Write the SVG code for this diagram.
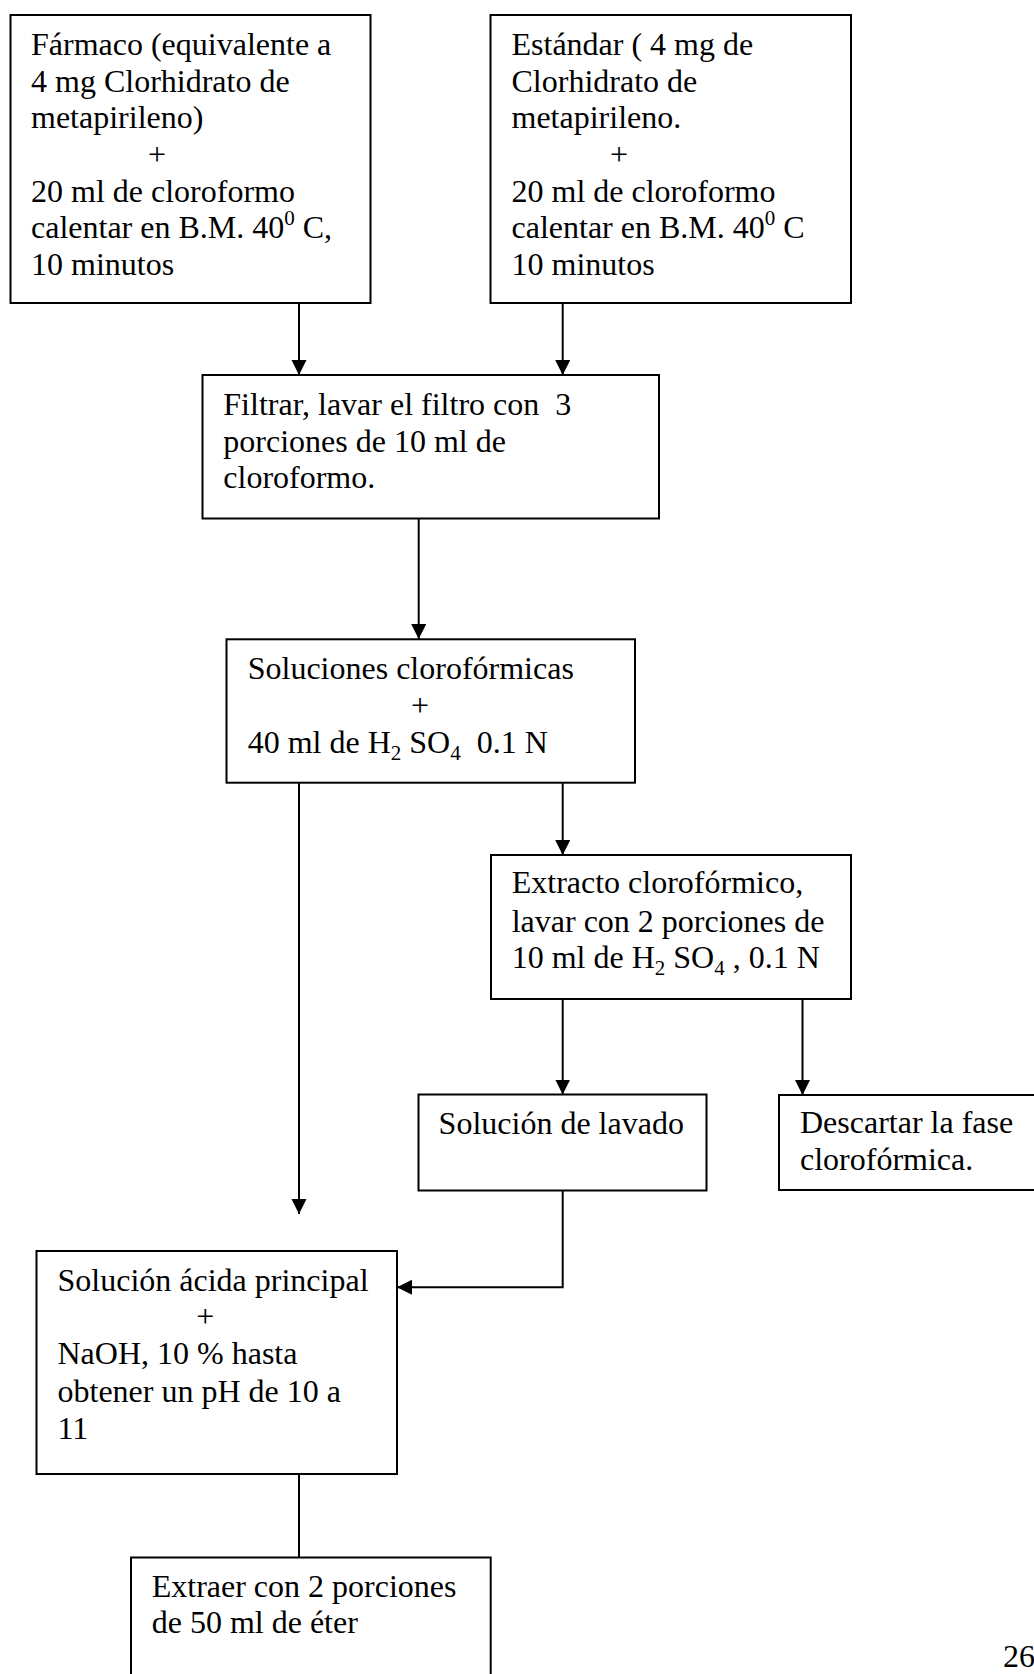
<svg xmlns="http://www.w3.org/2000/svg" width="1034" height="1674" viewBox="0 0 1034 1674">
<style>
.box{fill:#fff;stroke:#000;stroke-width:2}
.t{font-family:"Liberation Serif","Times New Roman",serif;font-size:32px;fill:#000}
.c{stroke:#000;stroke-width:2;fill:none}
.sub{font-size:21px}
</style>
<defs>
<marker id="ah" markerUnits="userSpaceOnUse" markerWidth="16" markerHeight="16" refX="15" refY="7.5" orient="auto">
<path d="M0,0 L15,7.5 L0,15 z" fill="#000"/>
</marker>
</defs>
<rect width="1034" height="1674" fill="#fff"/>
<g id="connectors">
<line class="c" x1="299" y1="303" x2="299" y2="375" marker-end="url(#ah)"/>
<line class="c" x1="562.7" y1="303" x2="562.7" y2="375" marker-end="url(#ah)"/>
<line class="c" x1="418.7" y1="518.5" x2="418.7" y2="639" marker-end="url(#ah)"/>
<line class="c" x1="299" y1="782.7" x2="299" y2="1214" marker-end="url(#ah)"/>
<line class="c" x1="562.7" y1="782.7" x2="562.7" y2="855" marker-end="url(#ah)"/>
<line class="c" x1="562.7" y1="999" x2="562.7" y2="1094.5" marker-end="url(#ah)"/>
<line class="c" x1="802.5" y1="999" x2="802.5" y2="1095" marker-end="url(#ah)"/>
<path class="c" d="M562.7,1190.5 V1287.3 H397" marker-end="url(#ah)"/>
<line class="c" x1="299" y1="1474" x2="299" y2="1557.5"/>
</g>
<g id="n1">
<rect class="box" x="10.5" y="15" width="360" height="288"/>
<text class="t" x="31">
<tspan x="31" y="55">Fármaco (equivalente a</tspan>
<tspan x="31" y="91.7">4 mg Clorhidrato de</tspan>
<tspan x="31" y="128.3">metapirileno)</tspan>
<tspan x="161" y="165" text-anchor="middle">+</tspan>
<tspan x="31" y="201.7">20 ml de cloroformo</tspan>
<tspan x="31" y="238.3">calentar en B.M. 40</tspan><tspan class="sub" dy="-13">0</tspan><tspan dy="13"> C,</tspan>
<tspan x="31" y="275">10 minutos</tspan>
</text>
</g>
<g id="n2">
<rect class="box" x="490.5" y="15" width="360.5" height="288"/>
<text class="t">
<tspan x="511.5" y="55">Estándar ( 4 mg de</tspan>
<tspan x="511.5" y="91.7">Clorhidrato de</tspan>
<tspan x="511.5" y="128.3">metapirileno.</tspan>
<tspan x="623" y="165" text-anchor="middle">+</tspan>
<tspan x="511.5" y="201.7">20 ml de cloroformo</tspan>
<tspan x="511.5" y="238.3">calentar en B.M. 40</tspan><tspan class="sub" dy="-13">0</tspan><tspan dy="13"> C</tspan>
<tspan x="511.5" y="275">10 minutos</tspan>
</text>
</g>
<g id="n3">
<rect class="box" x="202.5" y="375" width="456.5" height="143.5"/>
<text class="t">
<tspan x="223.3" y="415">Filtrar, lavar el filtro con&#160; 3</tspan>
<tspan x="223.3" y="451.7">porciones de 10 ml de</tspan>
<tspan x="223.3" y="488.3">cloroformo.</tspan>
</text>
</g>
<g id="n4">
<rect class="box" x="226.5" y="639.3" width="408.5" height="143.4"/>
<text class="t">
<tspan x="247.7" y="679">Soluciones clorofórmicas</tspan>
<tspan x="424" y="716" text-anchor="middle">+</tspan>
<tspan x="247.7" y="753">40 ml de H</tspan><tspan class="sub" dy="7">2</tspan><tspan dy="-7"> SO</tspan><tspan class="sub" dy="7">4</tspan><tspan dy="-7">&#160; 0.1 N</tspan>
</text>
</g>
<g id="n5">
<rect class="box" x="491" y="855" width="360" height="144"/>
<text class="t">
<tspan x="511.7" y="893.3">Extracto clorofórmico,</tspan>
<tspan x="511.7" y="931.7">lavar con 2 porciones de</tspan>
<tspan x="511.7" y="968.3">10 ml de H</tspan><tspan class="sub" dy="7">2</tspan><tspan dy="-7"> SO</tspan><tspan class="sub" dy="7">4</tspan><tspan dy="-7"> , 0.1 N</tspan>
</text>
</g>
<g id="n6">
<rect class="box" x="418.5" y="1094.5" width="288" height="96"/>
<text class="t" x="438.6" y="1134">Solución de lavado</text>
</g>
<g id="n7">
<rect class="box" x="779" y="1095" width="270" height="95"/>
<text class="t">
<tspan x="800" y="1133.3">Descartar la fase</tspan>
<tspan x="800" y="1170">clorofórmica.</tspan>
</text>
</g>
<g id="n8">
<rect class="box" x="36.5" y="1251" width="360.5" height="223"/>
<text class="t">
<tspan x="57.5" y="1290.5">Solución ácida principal</tspan>
<tspan x="209.3" y="1327" text-anchor="middle">+</tspan>
<tspan x="57.5" y="1364">NaOH, 10 % hasta</tspan>
<tspan x="57.5" y="1401.5">obtener un pH de 10 a</tspan>
<tspan x="57.5" y="1438.5">11</tspan>
</text>
</g>
<g id="n9">
<rect class="box" x="131" y="1557.5" width="359.7" height="130"/>
<text class="t">
<tspan x="151.7" y="1596.7">Extraer con 2 porciones</tspan>
<tspan x="151.7" y="1633.3">de 50 ml de éter</tspan>
</text>
</g>
<text class="t" x="1003" y="1667" font-size="30">26</text>
</svg>
